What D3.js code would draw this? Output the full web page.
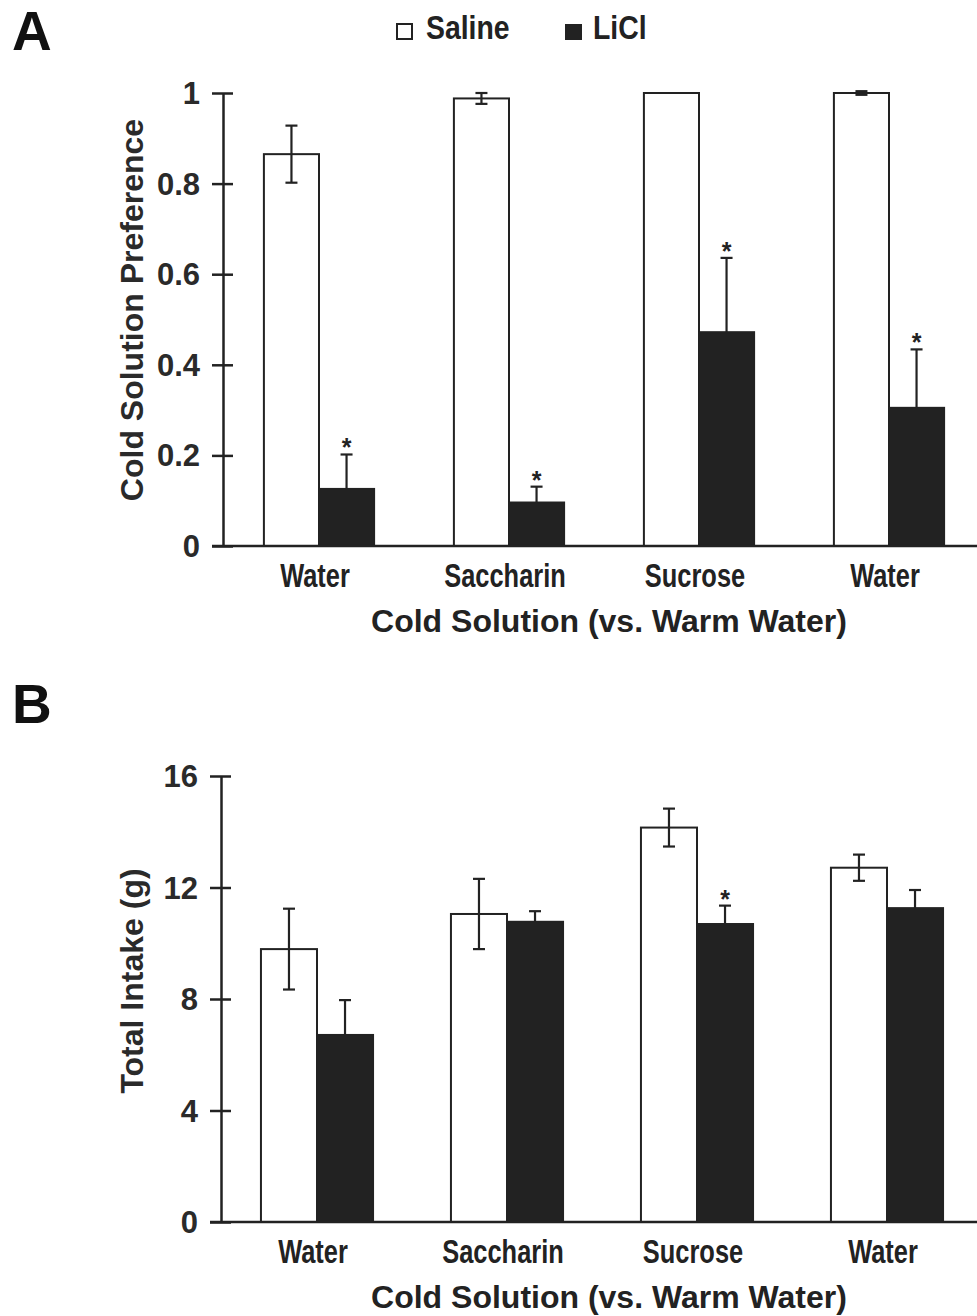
<!DOCTYPE html>
<html>
<head>
<meta charset="utf-8">
<script src="https://cdn.jsdelivr.net/npm/d3@7"></script>
<style>
  body { margin: 0; background: #fff; }
</style>
</head>
<body>
<div id="chart"></div>
<script>
// data
const categories = ["Water", "Saccharin", "Sucrose", "Water"];
const groups = ["Saline", "LiCl"];

// panel A - cold solution preference
const prefSaline = [0.865, 0.988, 1.0, 1.0];
const prefSalineErr = [0.063, 0.012, 0, 0.004];
const prefLiCl = [0.126, 0.096, 0.472, 0.305];
const prefLiClErr = [0.076, 0.035, 0.164, 0.129];
const prefSig = [true, true, true, true];
const prefTicks = [0, 0.2, 0.4, 0.6, 0.8, 1];

// panel B - total intake (g)
const intakeSaline = [9.79, 11.05, 14.15, 12.71];
const intakeSalineErr = [1.45, 1.26, 0.68, 0.47];
const intakeLiCl = [6.71, 10.77, 10.69, 11.26];
const intakeLiClErr = [1.25, 0.38, 0.66, 0.65];
const intakeSig = [false, false, true, false];
const intakeTicks = [0, 4, 8, 12, 16];

const W = 977, H = 1316;
const ink = "#222";
const font = "'Liberation Sans', Arial, sans-serif";

// the original uses a narrow face; squeeze the text to match
function condense(sel, f) {
  sel.each(function () {
    const w = this.getComputedTextLength();
    d3.select(this).attr("textLength", w * f).attr("lengthAdjust", "spacingAndGlyphs");
  });
}

const svg = d3.select("#chart").append("svg")
  .attr("width", W)
  .attr("height", H)
  .style("background", "#fff");

// legend
const legend = svg.append("g");
legend.append("rect").attr("x", 397).attr("y", 24).attr("width", 15).attr("height", 15)
  .attr("fill", "#fff").attr("stroke", ink).attr("stroke-width", 2);
legend.append("text").attr("x", 426).attr("y", 39).text("Saline");
legend.append("rect").attr("x", 565).attr("y", 24).attr("width", 17).attr("height", 16)
  .attr("fill", ink);
legend.append("text").attr("x", 593).attr("y", 39).text("LiCl");
legend.selectAll("text")
  .attr("font-family", font).attr("font-weight", "bold")
  .attr("font-size", 33).attr("fill", ink)
  .call(condense, 0.86);

function drawPanel(opt) {
  const g = svg.append("g");

  const x0 = d3.scaleBand()
    .domain(d3.range(categories.length))
    .range([opt.axisX + 1, opt.axisX + 761])
    .paddingInner(opt.pad)
    .paddingOuter(opt.pad / 2);

  const x1 = d3.scaleBand()
    .domain(groups)
    .range([0, x0.bandwidth()]);

  const y = d3.scaleLinear()
    .domain([0, opt.max])
    .range([opt.y0, opt.yTop]);

  const rows = categories.map((c, i) => ({
    i,
    sig: opt.sig[i],
    vals: [
      { key: "Saline", v: opt.saline[i], e: opt.salineErr[i] },
      { key: "LiCl", v: opt.licl[i], e: opt.liclErr[i] }
    ]
  }));

  const grp = g.selectAll("g.grp")
    .data(rows)
    .join("g")
    .attr("class", "grp")
    .attr("transform", d => `translate(${x0(d.i)},0)`);

  grp.selectAll("rect")
    .data(d => d.vals)
    .join("rect")
    .attr("x", d => x1(d.key))
    .attr("y", d => y(d.v))
    .attr("width", x1.bandwidth())
    .attr("height", d => opt.y0 - y(d.v))
    .attr("fill", d => d.key === "Saline" ? "#fff" : ink)
    .attr("stroke", ink)
    .attr("stroke-width", 2);

  // error bars: saline both ways, LiCl upward only
  const cap = 6;
  grp.selectAll("g.err")
    .data(d => d.vals.filter(v => v.e > 0))
    .join("g")
    .attr("class", "err")
    .each(function (d) {
      const cx = x1(d.key) + x1.bandwidth() / 2;
      const top = y(d.v + d.e);
      const bot = d.key === "Saline" ? y(d.v - d.e) : y(d.v);
      const e = d3.select(this).attr("stroke", ink).attr("stroke-width", 2.2);
      e.append("line").attr("x1", cx).attr("x2", cx).attr("y1", top).attr("y2", bot);
      e.append("line").attr("x1", cx - cap).attr("x2", cx + cap).attr("y1", top).attr("y2", top);
      if (d.key === "Saline") {
        e.append("line").attr("x1", cx - cap).attr("x2", cx + cap).attr("y1", bot).attr("y2", bot);
      }
    });

  // significance stars
  grp.filter(d => d.sig)
    .append("text")
    .attr("x", x1("LiCl") + x1.bandwidth() / 2)
    .attr("y", d => y(d.vals[1].v + d.vals[1].e) + 2)
    .attr("text-anchor", "middle")
    .attr("font-family", font)
    .attr("font-weight", "bold")
    .attr("font-size", 25)
    .attr("fill", ink)
    .text("*");

  // baseline
  g.append("line")
    .attr("x1", opt.axisX - 11).attr("x2", W)
    .attr("y1", opt.y0).attr("y2", opt.y0)
    .attr("stroke", ink).attr("stroke-width", 2.5);

  // y axis
  const yAxis = g.append("g")
    .attr("transform", `translate(${opt.axisX},0)`)
    .call(d3.axisLeft(y)
      .tickValues(opt.ticks)
      .tickFormat(d => String(d))
      .tickSize(11)
      .tickSizeOuter(0)
      .tickPadding(12));
  yAxis.select(".domain").attr("stroke", ink).attr("stroke-width", 2.5);
  yAxis.selectAll(".tick line").attr("x1", 10).attr("stroke", ink).attr("stroke-width", 2.5);
  yAxis.selectAll(".tick text")
    .attr("font-family", font).attr("font-weight", "bold")
    .attr("font-size", 31).attr("fill", "#2a2a2a")
    .attr("dy", "0.34em");

  // category axis
  const xAxis = g.append("g")
    .attr("transform", `translate(0,${opt.y0})`)
    .call(d3.axisBottom(x0).tickSize(0).tickFormat(i => categories[i]));
  xAxis.select(".domain").remove();
  xAxis.selectAll(".tick text")
    .attr("y", 41).attr("dy", 0).attr("dx", -4)
    .attr("font-family", font).attr("font-weight", "bold")
    .attr("font-size", 33).attr("fill", ink)
    .call(condense, 0.77);

  // axis titles
  g.append("text")
    .attr("x", 609).attr("y", opt.y0 + 86)
    .attr("text-anchor", "middle")
    .attr("font-family", font).attr("font-weight", "bold")
    .attr("font-size", 32).attr("fill", ink)
    .text("Cold Solution (vs. Warm Water)");

  g.append("text")
    .attr("transform", `translate(143,${opt.titleY}) rotate(-90)`)
    .attr("text-anchor", "middle")
    .attr("font-family", font).attr("font-weight", "bold")
    .attr("font-size", 32).attr("fill", "#2a2a2a")
    .text(opt.yTitle);

  // panel letter
  g.append("text")
    .attr("x", 12).attr("y", opt.letterY)
    .attr("font-family", font).attr("font-weight", "bold")
    .attr("font-size", 55).attr("fill", "#111")
    .text(opt.letter);
}

drawPanel({
  letter: "A", letterY: 50,
  axisX: 223, y0: 546, yTop: 93, max: 1, pad: 0.42,
  ticks: prefTicks, yTitle: "Cold Solution Preference", titleY: 310,
  saline: prefSaline, salineErr: prefSalineErr,
  licl: prefLiCl, liclErr: prefLiClErr, sig: prefSig
});

drawPanel({
  letter: "B", letterY: 723,
  axisX: 221, y0: 1222, yTop: 776, max: 16, pad: 0.41,
  ticks: intakeTicks, yTitle: "Total Intake (g)", titleY: 981,
  saline: intakeSaline, salineErr: intakeSalineErr,
  licl: intakeLiCl, liclErr: intakeLiClErr, sig: intakeSig
});
</script>
</body>
</html>
